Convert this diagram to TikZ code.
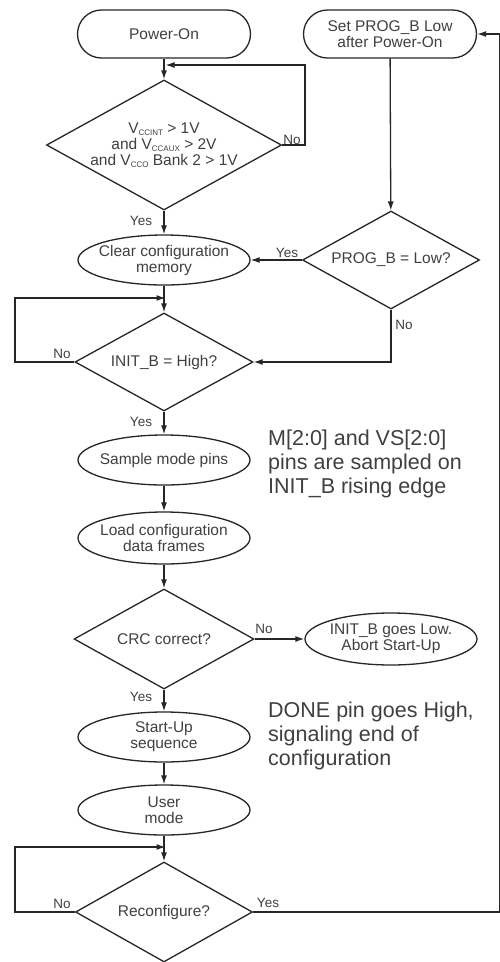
\documentclass[tikz,border=0pt]{standalone}
\usepackage{fontspec}
\setmainfont{Liberation Sans}
\usetikzlibrary{shapes.geometric,arrows.meta}
% small lowered index used in the supply-voltage names
\newcommand{\vsub}[1]{\raisebox{-0.3ex}{\fontsize{8}{8}\selectfont #1}}

\begin{document}
\begin{tikzpicture}[x=1pt,y=-1pt,
  font=\fontsize{15.5}{16}\selectfont,
  every node/.style={text=black!75},
  line/.style={draw=black!85,line width=1.3pt},
  flow/.style={line,-{Latex[length=9pt,width=6pt]}},
  term/.style={line,rectangle,rounded corners=24pt,minimum width=173pt,minimum height=48pt,inner sep=0pt,align=center},
  proc/.style={line,ellipse,minimum width=172pt,minimum height=50pt,inner xsep=-10pt,inner ysep=0pt,align=center},
  decide/.style={line,diamond,shape aspect=1.8,inner sep=0pt,align=center},
  tag/.style={font=\fontsize{13.5}{14}\selectfont,inner sep=0pt},
  note/.style={font=\fontsize{21.5}{24}\selectfont,align=left,inner sep=0pt,anchor=base west}
]
\fill[white] (0,0) rectangle (499,962);
\useasboundingbox (0,0) rectangle (499,962);

% flow nodes
\node[term] (pwr) at (164,34) {Power-On};
\node[term] (setp) at (390,34) {Set PROG\_B Low\\after Power-On};
\node[decide,inner xsep=-6pt,minimum width=235pt,minimum height=130pt] (vchk) at (164,145)
  {V\vsub{CCINT} > 1V\\and V\vsub{CCAUX} > 2V\\and V\vsub{CCO} Bank 2 > 1V};
\node[proc] (clr) at (164,260) {Clear configuration\\memory};
\node[decide,minimum width=177pt,minimum height=98pt] (progq) at (391,260) {PROG\_B = Low?};
\node[decide,minimum width=178pt,minimum height=98pt] (initq) at (164,362) {INIT\_B = High?};
\node[proc] (smp) at (164,460) {Sample mode pins};
\node[proc,minimum height=52pt] (load) at (164,538) {Load configuration\\data frames};
\node[decide,minimum width=180pt,minimum height=100pt] (crc) at (164,639) {CRC correct?};
\node[proc,minimum height=52pt] (abort) at (391,639) {INIT\_B goes Low.\\Abort Start-Up};
\node[proc] (start) at (164,737) {Start-Up\\sequence};
\node[proc] (user) at (164,810) {User\\mode};
\node[decide,minimum width=177pt,minimum height=100pt] (recfg) at (164,912) {Reconfigure?};

% bend points and junctions of the loops
\coordinate (c1) at (305,65);
\coordinate (j1) at (165.5,65);
\coordinate (c2) at (15,298);
\coordinate (j2) at (165.5,298);
\coordinate (c4) at (15,847);
\coordinate (j4) at (165.5,847);
\coordinate (c5) at (499.4,34);

% connectors
\draw[flow] (pwr) -- (vchk);
\draw[flow] (vchk.east) -| (c1) -- (j1);
\draw[flow] (vchk) -- (clr);
\draw[flow] (setp) -- (progq);
\draw[flow] (progq.west) -- (clr.east);
\draw[flow] (progq.south) |- (initq.east);
\draw[flow] (clr) -- (initq);
\draw[flow] (initq.west) -| (c2) -- (j2);
\draw[flow] (initq) -- (smp);
\draw[flow] (smp) -- (load);
\draw[flow] (load) -- (crc);
\draw[flow] (crc) -- (abort);
\draw[flow] (crc) -- (start);
\draw[flow] (start) -- (user);
\draw[flow] (user) -- (recfg);
\draw[flow] (recfg.west) -| (c4) -- (j4);
\draw[flow] (recfg.east) -| (c5) -- (setp.east);

% branch labels
\node[tag] (y1) at (141,221) {Yes};
\node[tag] (n1) at (292,140) {No};
\node[tag] (y2) at (287,253) {Yes};
\node[tag] (n2) at (404,325) {No};
\node[tag] (n3) at (62,354) {No};
\node[tag] (y3) at (141,422) {Yes};
\node[tag] (n4) at (264,629) {No};
\node[tag] (y4) at (141,697) {Yes};
\node[tag] (n5) at (62,904) {No};
\node[tag] (y5) at (268,903) {Yes};

% side notes (anchored on the baseline of their last line)
\node[note] (mnote) at (268,493) {M[2:0] and VS[2:0]\\pins are sampled on\\INIT\_B rising edge};
\node[note] (dnote) at (268,765) {DONE pin goes High,\\signaling end of\\configuration};
\end{tikzpicture}
\end{document}
